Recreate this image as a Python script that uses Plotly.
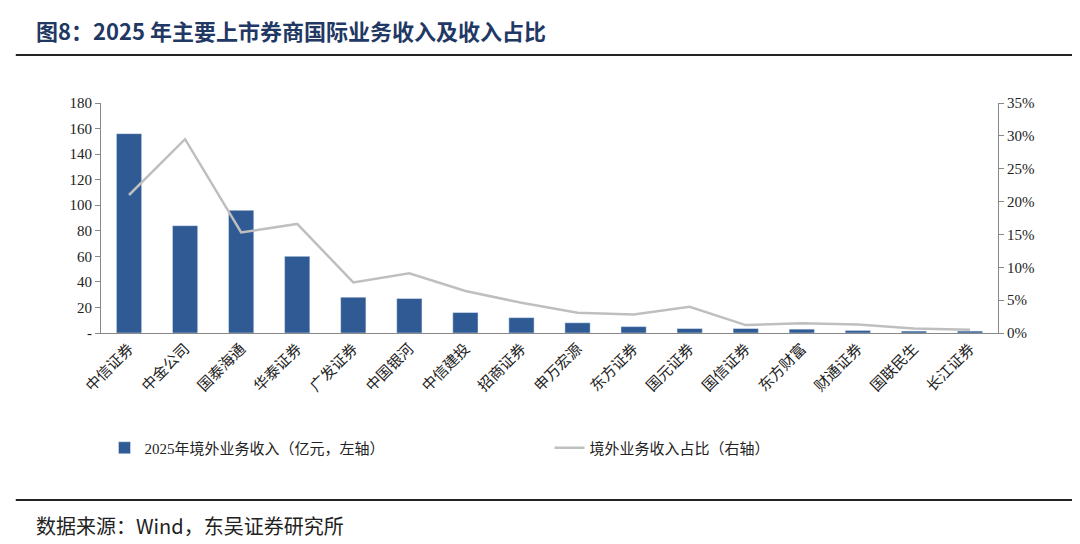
import plotly.graph_objects as go

brokers = ["中信证券", "中金公司", "国泰海通", "华泰证券", "广发证券", "中国银河", "中信建投", "招商证券",
           "申万宏源", "东方证券", "国元证券", "国信证券", "东方财富", "财通证券", "国联民生", "长江证券"]
revenue = [156, 84, 96, 60, 28, 27, 16, 12, 8, 5, 3.5, 3.5, 3, 2, 1.5, 1.5]
ratio = [21.0, 29.5, 15.3, 16.6, 7.7, 9.1, 6.4, 4.6, 3.1, 2.8, 4.0, 1.2, 1.5, 1.3, 0.7, 0.5]

left_ticks = [0, 20, 40, 60, 80, 100, 120, 140, 160, 180]
left_text = ["-"] + [str(v) for v in left_ticks[1:]]
right_ticks = [0, 5, 10, 15, 20, 25, 30, 35]
right_text = [f"{v}%" for v in right_ticks]

font = "Liberation Serif, Noto Sans CJK SC"

fig = go.Figure()
fig.add_trace(go.Bar(x=brokers, y=revenue, name="2025年境外业务收入（亿元，左轴）",
                     marker_color="#2f5a93", width=0.45))
fig.add_trace(go.Scatter(x=brokers, y=ratio, name="境外业务收入占比（右轴）", yaxis="y2",
                         mode="lines", line=dict(color="#bfbfbf", width=2.5)))

fig.update_layout(
    width=1080, height=544, margin=dict(l=93, r=90, t=95, b=219, autoexpand=False),
    paper_bgcolor="white", plot_bgcolor="white",
    font=dict(family=font, size=15, color="#222"),
    showlegend=True,
    legend=dict(orientation="h", x=0.5, xanchor="center", y=-0.5, yanchor="middle",
                font=dict(size=15), entrywidth=400),
    xaxis=dict(showline=True, linecolor="#888", tickangle=-45, ticks="", tickfont=dict(family="Noto Sans CJK SC", size=15)),
    yaxis=dict(range=[0, 180], tickvals=left_ticks, ticktext=left_text, showgrid=False,
               showline=True, linecolor="#888", ticks="outside", ticklen=5, tickcolor="#888"),
    yaxis2=dict(range=[0, 35], tickvals=right_ticks, ticktext=right_text, overlaying="y", side="right",
                showgrid=False, showline=True, linecolor="#888", ticks="outside", ticklen=5, tickcolor="#888"),
    bargap=0.5,
)

fig.add_annotation(text="<b>图8：2025 年主要上市券商国际业务收入及收入占比</b>", xref="paper", yref="paper",
                   x=-0.075, y=1.317, xanchor="left", yanchor="middle", showarrow=False,
                   font=dict(family="Noto Sans CJK SC", size=22, color="#1f3864"))
fig.add_annotation(text="数据来源：Wind，东吴证券研究所", xref="paper", yref="paper",
                   x=-0.075, y=-0.839, xanchor="left", yanchor="middle", showarrow=False,
                   font=dict(family="Noto Sans CJK SC", size=20, color="#222"))
fig.add_shape(type="line", xref="paper", yref="paper", x0=-0.095, x1=1.09, y0=1.209, y1=1.209,
              line=dict(color="#222", width=2))
fig.add_shape(type="line", xref="paper", yref="paper", x0=-0.095, x1=1.09, y0=-0.726, y1=-0.726,
              line=dict(color="#222", width=2))

fig.write_html("out.html")
